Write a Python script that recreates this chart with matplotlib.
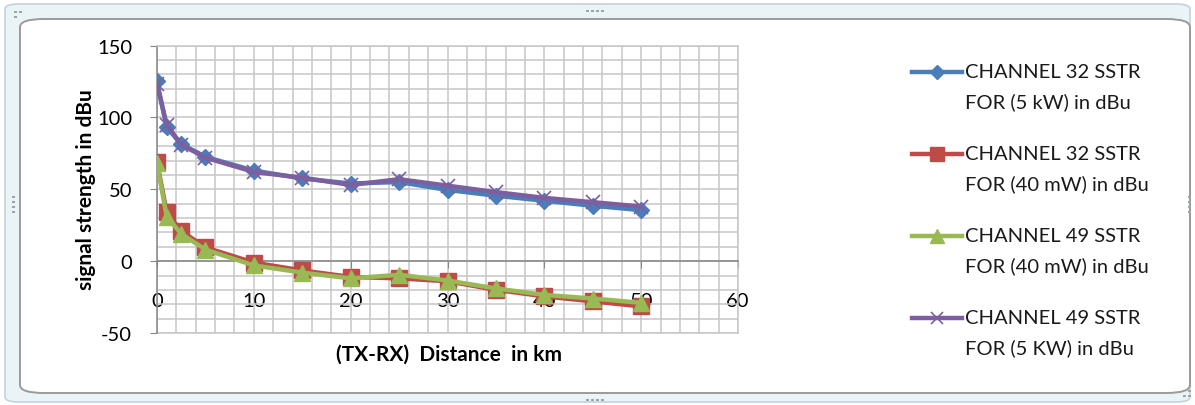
import matplotlib.pyplot as plt
from matplotlib.lines import Line2D
from matplotlib.patches import FancyBboxPatch, Rectangle
from matplotlib.ticker import MultipleLocator

# distance from transmitter (km)
distance = [0, 1, 2.5, 5, 10, 15, 20, 25, 30, 35, 40, 45, 50]

# measured signal strength (dBu)
ch32_5kw = [125, 93, 81.5, 72.5, 63, 57.5, 54, 55, 49.5, 45.5, 42, 38.5, 35.5]
ch32_40mw = [69, 34, 21, 9.5, -1, -6.5, -11, -12, -14, -20, -24.5, -28, -31.5]
ch49_40mw = [68, 31, 19, 8, -3, -8, -12, -9.5, -13.5, -19, -23.5, -26, -29]
ch49_5kw = [123, 95, 81, 72, 62, 58, 53, 57, 52.5, 48, 44, 41, 38]

labels = [
    "CHANNEL 32 SSTR\nFOR (5 kW) in dBu",
    "CHANNEL 32 SSTR\nFOR (40 mW) in dBu",
    "CHANNEL 49 SSTR\nFOR (40 mW) in dBu",
    "CHANNEL 49 SSTR\nFOR (5 KW) in dBu",
]

W, H = 1195, 406
plt.rcParams['font.family'] = ['Lato', 'DejaVu Sans']
plt.rcParams['axes.unicode_minus'] = False

fig = plt.figure(figsize=(W / 100, H / 100), dpi=100)
fig.patch.set_facecolor('white')


def fx(x):
    return x / W


def fy(y):
    return 1 - y / H


# chart frame (outer selection band + inner white area)
outer = FancyBboxPatch((fx(5), fy(403)), fx(1185), (398) / H,
                       boxstyle="round,pad=0,rounding_size=0.012",
                       transform=fig.transFigure, facecolor='#eaf4f7',
                       edgecolor='#c3d3d9', linewidth=1.2, zorder=-3)
fig.patches.append(outer)
inner = FancyBboxPatch((fx(20), fy(394)), fx(1170), (374) / H,
                       boxstyle="round,pad=0,rounding_size=0.02",
                       transform=fig.transFigure, facecolor='white',
                       edgecolor='#9a9a9a', linewidth=1.4, zorder=-2)
fig.patches.append(inner)

# resize handles
for hx, hy in [(587, 12), (592, 12), (597, 12), (602, 12),
               (587, 401), (592, 401), (597, 401), (602, 401),
               (15, 13), (20, 13), (15, 18),
               (1184, 397), (1189, 397), (1189, 392),
               (13, 198), (13, 203), (13, 208), (13, 213),
               (1189, 198), (1189, 203), (1189, 208), (1189, 213)]:
    fig.patches.append(Rectangle((fx(hx - 1), fy(hy + 1)), fx(2.5), 2.5 / H,
                                 transform=fig.transFigure, facecolor='#9aa6ab',
                                 edgecolor='none', zorder=-1))

ax = fig.add_axes([fx(157), fy(334), fx(738 - 157), (334 - 46.5) / H])
ax.set_zorder(2)
ax.set_facecolor('none')

styles = [
    dict(color='#4a7ebb', marker='D', ms=8),
    dict(color='#be4b48', marker='s', ms=11),
    dict(color='#98b954', marker='^', ms=11),
    dict(color='#7d5fa0', marker='x', ms=10, mew=1.2),
]
series = [ch32_5kw, ch32_40mw, ch49_40mw, ch49_5kw]
for i, (vals, st) in enumerate(zip(series, styles)):
    ax.plot(distance, vals, lw=3.2, zorder=3 + (i >= 2), **st)

ax.set_xlim(0, 60)
ax.set_ylim(-50, 150)
ax.xaxis.set_major_locator(MultipleLocator(10))
ax.xaxis.set_minor_locator(MultipleLocator(2))
ax.yaxis.set_major_locator(MultipleLocator(50))
ax.yaxis.set_minor_locator(MultipleLocator(10))
ax.grid(which='both', color='#c6c6c6', lw=1.1, zorder=0)
ax.set_axisbelow(True)

for side in ['top', 'right']:
    ax.spines[side].set_color('#c6c6c6')
    ax.spines[side].set_linewidth(1.1)
ax.spines['bottom'].set_position(('data', 0))
ax.spines['bottom'].set_color('#868686')
ax.spines['left'].set_color('#868686')
ax.spines['bottom'].set_linewidth(1.1)
ax.spines['left'].set_linewidth(1.1)
ax.plot([0, 60], [-50, -50], color='#c6c6c6', lw=1.1, clip_on=False, zorder=0)

ax.tick_params(axis='x', which='major', direction='out', length=5,
               color='#868686', pad=17, labelsize=14.5)
ax.tick_params(axis='y', which='major', direction='out', length=5,
               color='#868686', pad=13, labelsize=14.5)
ax.tick_params(which='minor', length=0)

fig.text(fx(86), fy(190), "signal strength in dBu", rotation=90,
         ha='center', va='center', fontsize=15, fontweight='bold')
fig.text(fx(449), fy(355), "(TX-RX)  Distance  in km", ha='center',
         va='center', fontsize=15, fontweight='bold')

# legend: sample line next to the first line of each two-line label
for i, (lab, st) in enumerate(zip(labels, styles)):
    y0 = 73 + 82 * i
    fig.add_artist(Line2D([fx(912), fx(962)], [fy(y0), fy(y0)], lw=3.2,
                          color=st['color'], transform=fig.transFigure))
    mk = dict(st)
    mk['ms'] = st['ms'] * 0.9
    fig.add_artist(Line2D([fx(937)], [fy(y0)], lw=0,
                          transform=fig.transFigure, **mk))
    for j, line in enumerate(lab.split("\n")):
        fig.text(fx(965), fy(y0 + 29 * j), line, ha='left', va='center',
                 fontsize=14.5, color='#1a1a1a')

fig.savefig("out.png", dpi=100)
